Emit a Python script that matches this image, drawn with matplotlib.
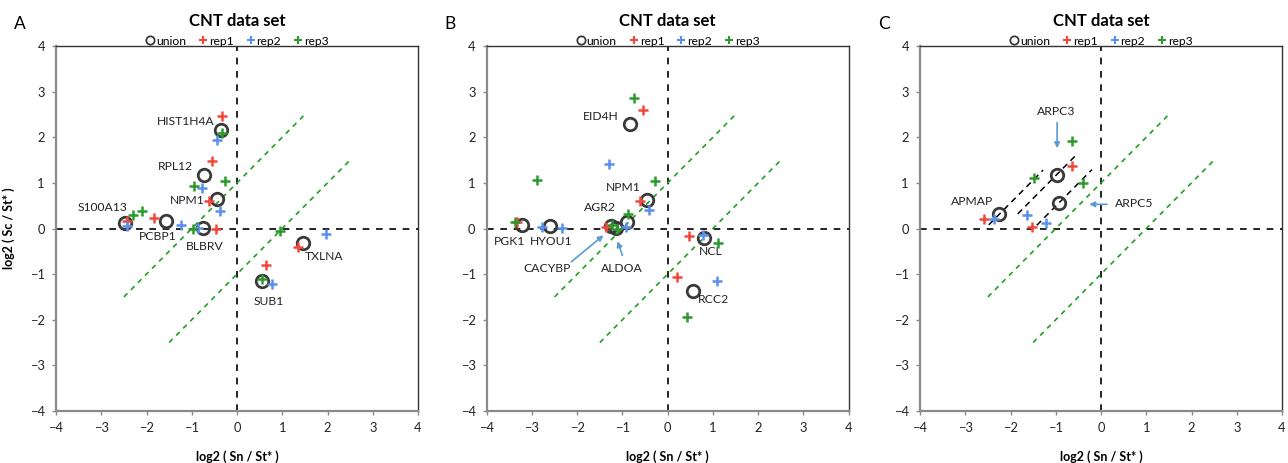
import matplotlib
matplotlib.use("Agg")
import matplotlib.pyplot as plt
from matplotlib.lines import Line2D

plt.rcParams["font.family"] = ["Lato", "DejaVu Sans"]

# ── panel A ──────────────────────────────────────────────────────────────
a_union_x = [-0.35, -0.73, -0.45, -2.47, -1.56, -0.76, 1.45, 0.56]
a_union_y = [2.16, 1.18, 0.64, 0.12, 0.17, 0.01, -0.32, -1.16]
a_rep1_x = [-0.33, -0.55, -0.61, -2.44, -1.83, -0.47, 1.34, 0.63]
a_rep1_y = [2.46, 1.48, 0.60, 0.17, 0.22, 0.00, -0.40, -0.80]
a_rep2_x = [-0.45, -0.77, -0.38, -2.44, -1.23, -0.87, 1.97, 0.77]
a_rep2_y = [1.95, 0.89, 0.39, 0.05, 0.08, 0.01, -0.12, -1.21]
a_rep3_x = [-0.33, -0.27, -0.94, -2.30, -2.11, -0.97, 0.94, 0.56]
a_rep3_y = [2.10, 1.04, 0.94, 0.30, 0.39, 0.00, -0.06, -1.10]
a_labels = ["HIST1H4A", "RPL12", "NPM1", "S100A13", "PCBP1", "BLBRV", "TXLNA", "SUB1"]
a_label_x = [-1.13, -1.35, -1.09, -2.97, -1.75, -0.71, 1.93, 0.70]
a_label_y = [2.35, 1.35, 0.62, 0.47, -0.18, -0.40, -0.62, -1.60]

# ── panel B ──────────────────────────────────────────────────────────────
b_union_x = [-0.83, -0.46, -0.89, -1.25, -1.15, -3.22, -2.61, 0.81, 0.55]
b_union_y = [2.29, 0.63, 0.14, 0.06, 0.02, 0.07, 0.06, -0.20, -1.36]
b_rep1_x = [-0.54, -0.62, -1.36, -3.32, 0.48, 0.21]
b_rep1_y = [2.59, 0.61, 0.04, 0.15, -0.17, -1.06]
b_rep2_x = [-1.29, -0.42, -0.93, -2.78, -2.33, 0.78, 1.09]
b_rep2_y = [1.42, 0.40, 0.04, 0.04, 0.02, -0.15, -1.16]
b_rep3_x = [-0.74, -2.88, -0.29, -0.88, -1.22, -1.12, -3.38, 1.11, 0.42]
b_rep3_y = [2.87, 1.06, 1.04, 0.31, 0.08, -0.01, 0.15, -0.31, -1.94]
b_labels = ["EID4H", "NPM1", "AGR2", "PGK1", "HYOU1", "CACYBP", "ALDOA", "NCL", "RCC2"]
b_label_x = [-1.47, -0.98, -1.49, -3.49, -2.57, -2.67, -1.01, 0.96, 1.02]
b_label_y = [2.46, 0.90, 0.45, -0.28, -0.28, -0.88, -0.88, -0.51, -1.56]
# arrows: (tail x, tail y, head x, head y)
b_arrows = [(-2.13, -0.73, -1.42, -0.15), (-1.00, -0.59, -1.11, -0.28)]

# ── panel C ──────────────────────────────────────────────────────────────
c_union_x = [-2.25, -0.98, -0.93]
c_union_y = [0.31, 1.18, 0.56]
c_rep1_x = [-2.59, -1.53, -0.65]
c_rep1_y = [0.20, 0.04, 1.37]
c_rep2_x = [-2.37, -1.63, -1.22]
c_rep2_y = [0.20, 0.30, 0.11]
c_rep3_x = [-1.47, -0.65, -0.40]
c_rep3_y = [1.11, 1.91, 1.00]
c_labels = ["APMAP", "ARPC3", "ARPC5"]
c_label_x = [-2.85, -0.98, 0.31]
c_label_y = [0.60, 2.56, 0.55]
c_label_ha = ["center", "center", "left"]
c_arrows = [(-0.97, 2.32, -0.97, 1.76), (0.13, 0.53, -0.26, 0.53)]
# slope-1 guide segments through the union points: (x start, x end, intercept)
c_guides = [(-2.48, -1.28, 2.56), (-1.84, -0.54, 2.16), (-1.42, -0.20, 1.49)]

# ── styling ──────────────────────────────────────────────────────────────
RED, BLUE, GREEN = "#f0483a", "#5b8ff0", "#2c9a2c"
CIRC = "#3a3a3a"
LINE_GREEN = "#1fa01f"
FS = 8.7

W, H = 1288, 463
fig = plt.figure(figsize=(W / 100, H / 100), dpi=100)
lefts = [56, 486.7, 920]
axes = [fig.add_axes([l / W, 1 - 411 / H, 362 / W, 365 / H]) for l in lefts]


def base(ax, letter, ylabel):
    ax.set_xlim(-4, 4)
    ax.set_ylim(-4, 4)
    ax.set_xticks(range(-4, 5))
    ax.set_yticks(range(-4, 5))
    ax.tick_params(length=3, width=1, color="#8a8a8a", labelsize=9.3,
                   labelcolor="#222222", pad=5)
    for s in ("left", "bottom"):
        ax.spines[s].set_color("#8a8a8a")
        ax.spines[s].set_linewidth(1.6)
    for s in ("top", "right"):
        ax.spines[s].set_color("#333333")
        ax.spines[s].set_linewidth(1.0)
    ax.axhline(0, color="black", ls=(0, (4, 4)), lw=1.2, zorder=1)
    ax.axvline(0, color="black", ls=(0, (4, 4)), lw=1.2, zorder=1)
    # +1 / -1 fold-change diagonals
    ax.plot([-2.5, 1.5], [-1.5, 2.5], color=LINE_GREEN, ls=(0, (3, 3)), lw=1.2, zorder=1)
    ax.plot([-1.5, 2.5], [-2.5, 1.5], color=LINE_GREEN, ls=(0, (3, 3)), lw=1.2, zorder=1)
    ax.set_xlabel("log2 ( Sn / St* )", fontsize=9, fontweight="bold", labelpad=12)
    if ylabel:
        ax.set_ylabel("log2 ( Sc / St* )", fontsize=9, fontweight="bold", labelpad=11)
    ax.text(0.5, 1.068, "CNT data set", transform=ax.transAxes, ha="center",
            va="center", fontsize=12, fontweight="bold")
    ax.text(-0.1, 1.06, letter, transform=ax.transAxes, ha="center",
            va="center", fontsize=12.5)
    handles = [
        Line2D([], [], ls="none", marker="o", ms=6, mfc="none", mec=CIRC, mew=1.3),
        Line2D([], [], ls="none", marker="+", ms=6, mec=RED, mew=1.5),
        Line2D([], [], ls="none", marker="+", ms=6, mec=BLUE, mew=1.5),
        Line2D([], [], ls="none", marker="+", ms=6, mec=GREEN, mew=1.5),
    ]
    ax.legend(handles, ["union", "rep1", "rep2", "rep3"], loc="lower center",
              bbox_to_anchor=(0.5, 0.995), ncol=4, frameon=False, fontsize=8.7,
              handlelength=0.8, handletextpad=0.1, columnspacing=1.0,
              borderpad=0.1, borderaxespad=0.0)


def points(ax, ux, uy, r1x, r1y, r2x, r2y, r3x, r3y):
    ax.plot(ux, uy, ls="none", marker="o", ms=9, mfc="none", mec=CIRC, mew=2.0, zorder=3)
    kw = dict(ls="none", marker="+", ms=7, mew=1.8, zorder=4)
    ax.plot(r1x, r1y, mec=RED, **kw)
    ax.plot(r2x, r2y, mec=BLUE, **kw)
    ax.plot(r3x, r3y, mec=GREEN, **kw)


def arrows(ax, arr):
    for x0, y0, x1, y1 in arr:
        ax.annotate("", xy=(x1, y1), xytext=(x0, y0),
                    arrowprops=dict(arrowstyle="-|>", color="#5b9bd5", lw=1.2,
                                    mutation_scale=8, shrinkA=0, shrinkB=0))


axA, axB, axC = axes
base(axA, "A", True)
base(axB, "B", False)
base(axC, "C", False)

points(axA, a_union_x, a_union_y, a_rep1_x, a_rep1_y, a_rep2_x, a_rep2_y, a_rep3_x, a_rep3_y)
for t, x, y in zip(a_labels, a_label_x, a_label_y):
    axA.text(x, y, t, ha="center", va="center", fontsize=FS, color="#222222")

points(axB, b_union_x, b_union_y, b_rep1_x, b_rep1_y, b_rep2_x, b_rep2_y, b_rep3_x, b_rep3_y)
for t, x, y in zip(b_labels, b_label_x, b_label_y):
    axB.text(x, y, t, ha="center", va="center", fontsize=FS, color="#222222")
arrows(axB, b_arrows)

for x0, x1, c in c_guides:
    axC.plot([x0, x1], [x0 + c, x1 + c], color="black", ls=(0, (4, 3)), lw=1.1, zorder=2)
points(axC, c_union_x, c_union_y, c_rep1_x, c_rep1_y, c_rep2_x, c_rep2_y, c_rep3_x, c_rep3_y)
for t, x, y, ha in zip(c_labels, c_label_x, c_label_y, c_label_ha):
    axC.text(x, y, t, ha=ha, va="center", fontsize=FS, color="#222222")
arrows(axC, c_arrows)

fig.savefig("out.png", dpi=100)
